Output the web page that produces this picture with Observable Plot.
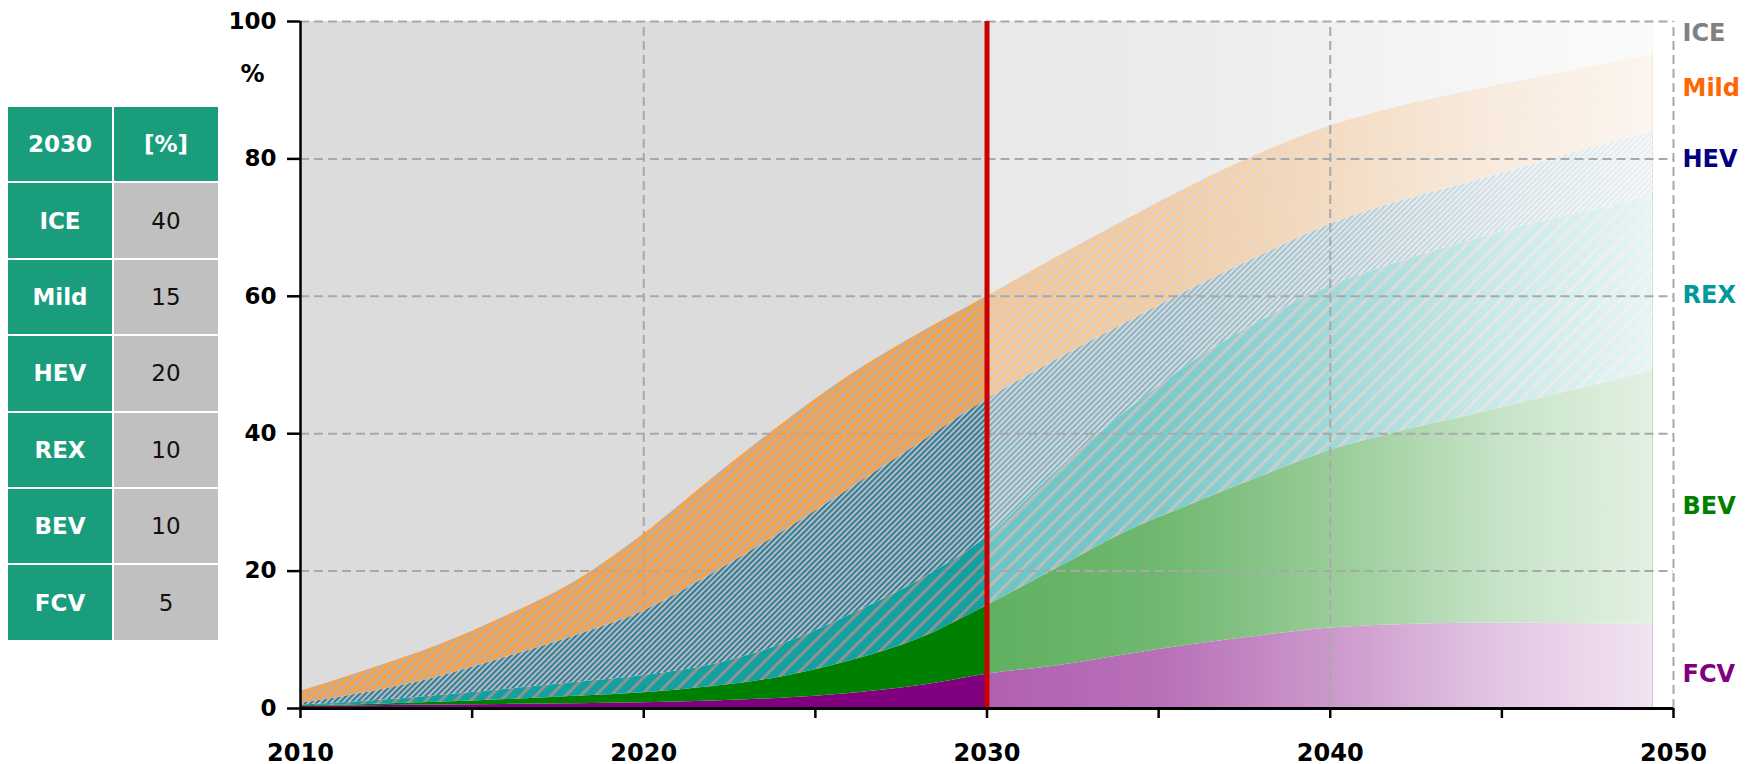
<!DOCTYPE html>
<html>
<head>
<meta charset="utf-8">
<script src="https://cdn.jsdelivr.net/npm/d3@7"></script>
<script src="https://cdn.jsdelivr.net/npm/@observablehq/plot@0.6"></script>
<style>
  body { margin: 0; background: #fff; font-family: "DejaVu Sans", sans-serif; }
  #wrap { position: relative; width: 1756px; height: 764px; }
  #wrap svg { position: absolute; left: 0; top: 0; }
  #share {
    position: absolute; left: 8px; top: 107px;
    display: grid; grid-template-columns: 104px 104px; grid-auto-rows: 74.4px; gap: 2px;
    font-size: 23px;
  }
  #share div { display: flex; align-items: center; justify-content: center; }
  #share .key { background: #1a9d7d; color: #fff; font-weight: bold; }
  #share .val { background: #c0c0c0; color: #111; }
</style>
</head>
<body>
<div id="wrap"><div id="share"></div></div>
<script>
// Powertrain shares of new registrations, % (stacked bottom to top: FCV … ICE)
const years = [2010, 2012, 2014, 2016, 2018, 2020, 2022, 2024, 2026, 2028, 2030,
               2032, 2034, 2036, 2038, 2040, 2042, 2044, 2046, 2048, 2049.4];
const types = ["FCV", "BEV", "REX", "HEV", "Mild", "ICE"];
const fcv  = [0.3, 0.4, 0.5, 0.6, 0.7, 0.85, 1.1, 1.5, 2.2, 3.3, 5, 6.2, 7.8, 9.3, 10.6, 11.7, 12.2, 12.4, 12.4, 12.3, 12.3];
const bev  = [0.1, 0.2, 0.4, 0.7, 1.1, 1.45, 2.1, 3.1, 4.7, 6.8, 10, 14.1, 17.8, 20.5, 23.2, 25.9, 28.1, 30.2, 32.6, 35.1, 36.9];
const rex  = [0.1, 0.5, 1.0, 1.5, 2.0, 2.5, 3.2, 4.7, 6.7, 8.5, 10, 14.2, 17.4, 20.7, 22.7, 23.9, 24.7, 25.4, 25.7, 25.6, 25.6];
const hev  = [0.3, 1.3, 2.7, 4.7, 6.8, 9.4, 13.2, 16.3, 18.4, 19.9, 20, 16.2, 13, 10.7, 9.5, 9, 8.8, 8.5, 8.6, 9.2, 9.1];
const mild = [1.7, 3.3, 4.6, 6, 7.9, 11.2, 13.9, 15.7, 16.5, 16, 15, 14.9, 15, 15, 14.9, 14.3, 13.8, 13.3, 12.5, 11.6, 11.3];
const ice  = [97.5, 94.3, 90.8, 86.5, 81.5, 74.6, 66.5, 58.7, 51.5, 45.5, 40, 34.4, 29, 23.8, 19.1, 15.2, 12.4, 10.2, 8.2, 6.2, 4.8];
const shares = {FCV: fcv, BEV: bev, REX: rex, HEV: hev, Mild: mild, ICE: ice};

const baseYear = 2030;                 // last year of the history period, shown in the table
const yTicks = [0, 20, 40, 60, 80, 100];
const xTicks = [2010, 2015, 2020, 2025, 2030, 2035, 2040, 2045, 2050];
const labelY = [5, 29.4, 60.1, 79.9, 90.3, 98.3];   // end labels, same order as types

const fills = {FCV: "#800080", BEV: "#008000", REX: "url(#hatch-rex)",
               HEV: "url(#hatch-hev)", Mild: "url(#hatch-mild)", ICE: "#dcdcdc"};
const hatched = new Set(["REX", "HEV", "Mild"]);
const labelColors = {FCV: "#800080", BEV: "#008000", REX: "#009999",
                     HEV: "#000080", Mild: "#ff6600", ICE: "#808080"};

const rows = types.flatMap(t => years.map((year, i) => ({year, type: t, share: shares[t][i]})));
const stack = opts => Plot.stackY({x: "year", y: "share", z: "type", order: types, curve: "monotone-x", ...opts});

// table of the base-year mix
const baseIdx = years.indexOf(baseYear);
const table = document.getElementById("share");
const cell = (cls, text) => { const d = document.createElement("div"); d.className = cls; d.textContent = text; table.appendChild(d); };
cell("key", String(baseYear)); cell("key", "[%]");
for (const t of [...types].reverse()) { cell("key", t); cell("val", String(shares[t][baseIdx])); }

const grid = {stroke: "#a6a9a9", strokeWidth: 2, strokeDasharray: "9,5"};

const chart = Plot.plot({
  width: 1756, height: 764,
  marginLeft: 300, marginRight: 83, marginTop: 21, marginBottom: 56,
  style: {fontFamily: "DejaVu Sans, sans-serif", fontSize: "23px", fontWeight: "bold", background: "transparent", overflow: "visible"},
  x: {domain: [2010, 2050]},
  y: {domain: [0, 100]},
  color: {type: "identity"},
  opacity: {type: "identity"},
  marks: [
    // ICE occupies whatever remains up to 100 %
    Plot.areaY(rows, stack({fill: d => d.type === "ICE" ? fills.ICE : "none"})),
    // grid of the history period sits under the areas
    Plot.ruleY(yTicks.slice(1), {x1: years[0], x2: baseYear, ...grid}),
    Plot.ruleX([2020], {y1: 0, y2: 100, ...grid}),
    Plot.areaY(rows, stack({fill: d => d.type === "ICE" ? "none" : fills[d.type],
                            fillOpacity: d => hatched.has(d.type) ? 0.93 : 1})),
    // the outlook period fades out
    Plot.rect([[baseYear, years[years.length - 1]]], {x1: d => d[0], x2: d => d[1], y1: () => 0, y2: () => 100, fill: "url(#fade)"}),
    Plot.ruleY(yTicks.slice(1), {x1: baseYear, x2: 2050, ...grid}),
    Plot.ruleX([2040, 2050], {y1: 0, y2: 100, ...grid}),
    Plot.ruleX([baseYear], {y1: 0, y2: 100, stroke: "#cc0000", strokeWidth: 5}),
    Plot.ruleX([2010], {y1: 0, y2: 100, stroke: "#000", strokeWidth: 2.5}),
    Plot.ruleY([0], {stroke: "#000", strokeWidth: 3}),
    Plot.axisY({ticks: yTicks, tickSize: 13, tickPadding: 11, strokeWidth: 2.5, label: null, fontSize: 23}),
    Plot.axisX({ticks: xTicks, tickSize: 10, tickPadding: 25, strokeWidth: 2.5, label: null, fontSize: 24,
                tickFormat: d => d % 10 ? "" : `${d}`}),
    Plot.text(["%"], {frameAnchor: "top-left", dx: -48, dy: 53, textAnchor: "middle", lineAnchor: "middle", fontSize: 24}),
    Plot.text(types, {y: (t, i) => labelY[i], frameAnchor: "right", dx: 9, textAnchor: "start", lineAnchor: "middle",
                      fill: t => labelColors[t], fontSize: 24, text: t => t})
  ]
});

// hatch patterns and the fade gradient
const ns = "http://www.w3.org/2000/svg";
function el(tag, attrs, kids = []) {
  const e = document.createElementNS(ns, tag);
  for (const [k, v] of Object.entries(attrs)) e.setAttribute(k, v);
  kids.forEach(k => e.appendChild(k));
  return e;
}
function hatch(id, period, base, stripe, stripeWidth) {
  return el("pattern", {id, patternUnits: "userSpaceOnUse", width: period, height: period, patternTransform: "rotate(45)"}, [
    el("rect", {width: period, height: period, fill: base}),
    el("rect", {width: stripeWidth, height: period, fill: stripe})
  ]);
}
const fadeStops = [[0, 0.38], [0.26, 0.44], [0.52, 0.6], [0.77, 0.78], [1, 0.89]];
const defs = el("defs", {}, [
  hatch("hatch-mild", 6.4, "#b2a9a1", "#fa9b38", 3.9),
  hatch("hatch-hev", 4, "#b0b6b9", "#136d8f", 1.8),
  hatch("hatch-rex", 10.6, "#009999", "#8a8a8a", 3),
  el("linearGradient", {id: "fade", x1: 0, x2: 1, y1: 0, y2: 0},
     fadeStops.map(([o, a]) => el("stop", {offset: o, "stop-color": "#fff", "stop-opacity": a})))
]);
chart.insertBefore(defs, chart.firstChild);
document.getElementById("wrap").appendChild(chart);
</script>
</body>
</html>
